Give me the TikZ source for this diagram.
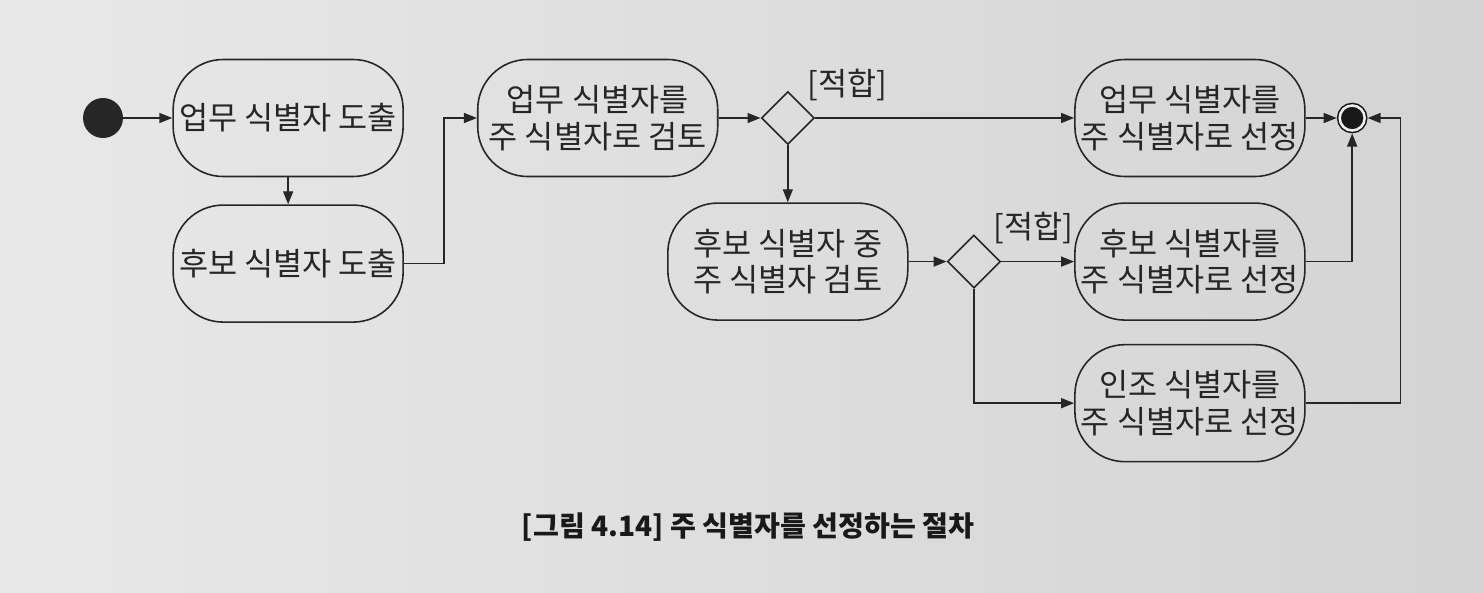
\documentclass[tikz,border=0pt]{standalone}
\usepackage{fontspec}
\newfontfamily\kofont{Noto Sans CJK KR}
\usepackage{tikz}
\usetikzlibrary{arrows.meta, positioning, shapes.geometric}

\begin{document}
\begin{tikzpicture}[
  node distance=5mm and 10mm,
  every node/.style={font=\kofont\fontsize{18pt}{21pt}\selectfont, text=black!85},
  act/.style={draw=black!85, rounded corners=10mm, align=center, minimum width=46mm, minimum height=23.4mm, inner sep=1pt, line width=0.9pt},
  choice/.style={draw=black!85, diamond, aspect=1, minimum width=10.6mm, minimum height=10.6mm, inner sep=0pt, line width=0.9pt},
  startdot/.style={circle, fill=black!85, minimum size=8mm, inner sep=0pt},
  enddot/.style={circle, draw=black!90, fill=black!90, double=black!6, double distance=0.5mm, line width=0.9pt, minimum size=5mm, inner sep=0pt, outer sep=0.6mm},
  guard/.style={inner sep=1pt},
  arr/.style={-{Triangle[length=2.6mm, width=2mm]}, line width=0.8pt, draw=black!85},
]

 % ---- page background ----
 \shade[left color=black!9, right color=black!17] (0,0) rectangle (296.6mm,-118.6mm);
 \useasboundingbox (0,0) rectangle (296.6mm,-118.6mm);

 % ---- first column ----
 \node[startdot] (start) at (20.6mm,-23.6mm) {};
 \node[act, right=9.8mm of start] (bizId) {업무 식별자 도출};
 \node[act, below=5.4mm of bizId] (candId) {후보 식별자 도출};

 % ---- upper row ----
 \node[act, right=14.6mm of bizId, minimum width=48mm] (revBiz) {업무 식별자를\\주 식별자로 검토};
 \node[choice, right=8.4mm of revBiz] (dec1) {};
 \node[act, right=51.8mm of dec1] (selBiz) {업무 식별자를\\주 식별자로 선정};
 \node[enddot, right=6.2mm of selBiz] (stop) {};

 % ---- lower rows ----
 \node[act, below=11.4mm of dec1, minimum width=48mm] (revCand) {후보 식별자 중\\주 식별자 검토};
 \node[choice, right=7.6mm of revCand] (dec2) {};
 \node[act, below=5mm of selBiz] (selCand) {후보 식별자를\\주 식별자로 선정};
 \node[act, below=4.6mm of selCand] (selArt) {인조 식별자를\\주 식별자로 선정};

 \coordinate[right=8mm of candId.east] (bendA);
 \coordinate[right=19mm of selArt.east] (bendB);

 % ---- caption ----
 \node[font=\kofont\bfseries\fontsize{16pt}{19pt}\selectfont, text=black!90] (caption) at (149.6mm,-105.4mm) {[그림 4.14] 주 식별자를 선정하는 절차};

 \draw[arr] (start) -- (bizId);
 \draw[arr] (bizId) -- (candId);
 \draw[arr] (candId.east) -- (bendA) |- (revBiz.west);
 \draw[arr] (revBiz) -- (dec1);
 \draw[arr] (dec1) -- node[guard, pos=0, anchor=south west, xshift=-2mm, yshift=3mm]{[적합]} (selBiz);
 \draw[arr] (dec1) -- (revCand);
 \draw[arr] (revCand) -- (dec2);
 \draw[arr] (dec2) -- node[guard, pos=0, anchor=south west, xshift=-2mm, yshift=3mm]{[적합]} (selCand);
 \draw[arr] (dec2.south) |- (selArt.west);
 \draw[arr] (selBiz) -- (stop);
 \draw[arr] (selCand.east) -| (stop.south);
 \draw[arr] (selArt.east) -- (bendB) |- (stop.east);

\end{tikzpicture}
\end{document}
